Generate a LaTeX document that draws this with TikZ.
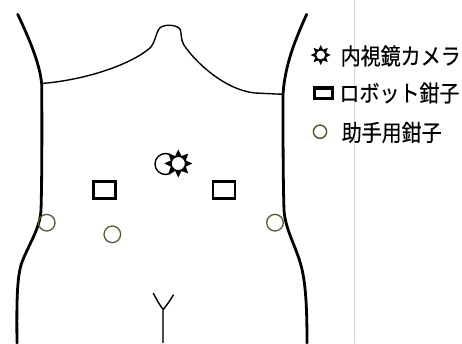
\documentclass[tikz,border=0pt]{standalone}
\usepackage{graphicx}
\usepackage{fontspec}
\newfontfamily\jpfont[FakeBold=0.4]{Noto Sans CJK JP}
\definecolor{olive}{RGB}{95,85,55}
\definecolor{guide}{RGB}{215,215,215}
\tikzset{
  outline/.style={line width=2.8pt, line cap=round, line join=round},
  thinline/.style={line width=1.4pt, line cap=round, line join=round},
  portcircle/.style={draw=olive, line width=1.3pt},
  robotport/.style={draw=black, line width=2.6pt},
  legendtext/.style={anchor=west, inner sep=0pt, font=\jpfont\fontsize{20}{24}\selectfont},
  sunmark/.pic={
    \fill[black] (90:1)
      \foreach \a in {90,135,...,450}{ -- ({\a-22.5}:0.58) -- (\a:1) } -- cycle;
    \filldraw[fill=white, draw=black, line width=0.9pt] (0,0) circle (0.5);
  }
}
\newcommand{\tallword}[1]{\scalebox{1}[1.14]{#1}}
\begin{document}
\begin{tikzpicture}[x=1pt, y=-1pt]
  \useasboundingbox (0,0) rectangle (462,343);

  % faint guide line behind the legend
  \draw[guide, line width=1pt] (354.5,0) -- (354.5,343);

  % torso outline
  \draw[outline] (17.7,14.3) .. controls (30,40) and (40,65) .. (41.7,84)
    .. controls (42,120) and (42,180) .. (41,210)
    .. controls (40,228) and (30,242) .. (22,262)
    .. controls (17,276) and (16.5,300) .. (17,343);
  \draw[outline] (306.7,14.3) .. controls (295,40) and (285,65) .. (283,94)
    .. controls (283,130) and (283,180) .. (284,210)
    .. controls (285,228) and (295,245) .. (300,262)
    .. controls (305,278) and (307,300) .. (307,343);

  % clavicle line and neck
  \draw[thinline] (41.7,83.5) .. controls (85,80) and (130,65) .. (150,48)
    .. controls (155,43) and (156,33) .. (159,29)
    .. controls (162,24) and (176,24) .. (180,29)
    .. controls (182,33) and (180,38) .. (184,45)
    .. controls (195,62) and (225,90) .. (255,93) -- (283,94.3);

  % navel region
  \draw[thinline] (153.3,293.3) .. controls (157,300) and (160,306) .. (163.3,309.5)
    .. controls (166,306) and (170,301) .. (173.3,295);
  \draw[line width=2pt, black!70] (163.3,309.5) -- (163.3,343);

  % camera port
  \draw[line width=1.4pt] (165.5,164) circle (10.5);
  \pic[scale=14] at (178.3,163.5) {sunmark};

  % robot forceps ports
  \draw[robotport] (93.5,181.5) rectangle (115.5,198.5);
  \draw[robotport] (213,181.5) rectangle (235,198.5);

  % assistant forceps ports
  \draw[portcircle] (46.7,222.7) circle (8.3);
  \draw[portcircle] (112.3,234.3) circle (8.3);
  \draw[portcircle] (275,222.7) circle (8.3);

  % legend
  \pic[scale=10] at (320.7,55) {sunmark};
  \node[legendtext] (camera) at (340.5,56) {\tallword{内視鏡カメラ}};
  \draw[line width=3.4pt] (314.5,88) rectangle (332.5,98.5);
  \node[legendtext] (robot) at (339.3,93) {\tallword{ロボット鉗子}};
  \draw[portcircle, line width=1.5pt] (320,131.7) circle (6.6);
  \node[legendtext] (assist) at (341.5,132.5) {\tallword{助手用鉗子}};
\end{tikzpicture}
\end{document}
